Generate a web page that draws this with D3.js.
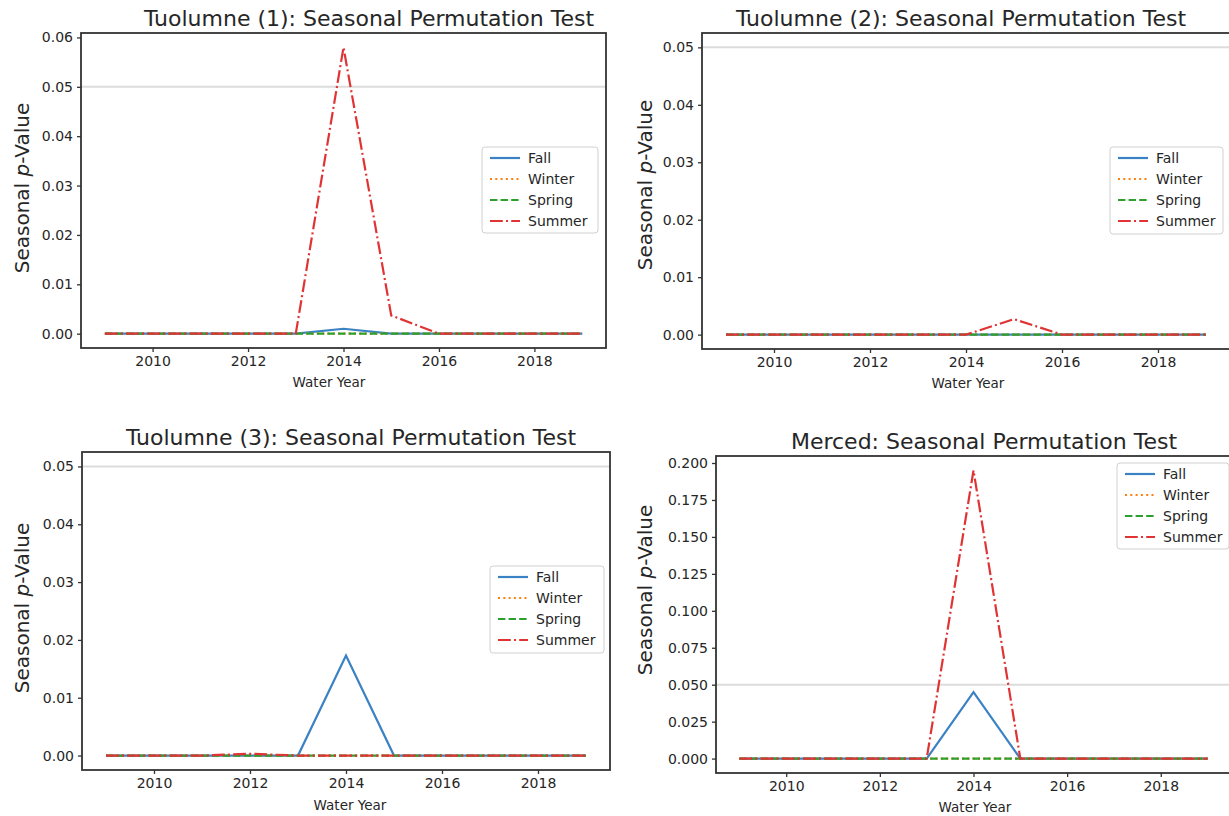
<!DOCTYPE html>
<html>
<head>
<meta charset="utf-8">
<script src="https://cdn.jsdelivr.net/npm/d3@7"></script>
<style>
  html, body { margin: 0; padding: 0; background: #fff; }
  svg { display: block; }
  text { font-family: "DejaVu Sans", sans-serif; fill: #262626; }
</style>
</head>
<body>
<svg id="chart" width="1229" height="816"></svg>
<script>
// ---------------- DATA ----------------
const years = [2009, 2010, 2011, 2012, 2013, 2014, 2015, 2016, 2017, 2018, 2019];
const seasons = ["Fall", "Winter", "Spring", "Summer"];
const xTickValues = [2010, 2012, 2014, 2016, 2018];
const threshold = 0.05;

const t1Fall   = [0, 0, 0, 0, 0, 0.001, 0, 0, 0, 0, 0];
const t1Winter = [0, 0, 0, 0, 0, 0, 0, 0, 0, 0, 0];
const t1Spring = [0, 0, 0, 0, 0, 0, 0, 0, 0, 0, 0];
const t1Summer = [0, 0, 0, 0, 0, 0.058, 0.0037, 0, 0, 0, 0];

const t2Fall   = [0, 0, 0, 0, 0, 0, 0, 0, 0, 0, 0];
const t2Winter = [0, 0, 0, 0, 0, 0, 0, 0, 0, 0, 0];
const t2Spring = [0, 0, 0, 0, 0, 0, 0, 0, 0, 0, 0];
const t2Summer = [0, 0, 0, 0, 0, 0, 0.0027, 0, 0, 0, 0];

const t3Fall   = [0, 0, 0, 0, 0, 0.0173, 0, 0, 0, 0, 0];
const t3Winter = [0, 0, 0, 0, 0, 0, 0, 0, 0, 0, 0];
const t3Spring = [0, 0, 0, 0, 0, 0, 0, 0, 0, 0, 0];
const t3Summer = [0, 0, 0, 0.0003, 0, 0, 0, 0, 0, 0, 0];

const mFall   = [0, 0, 0, 0, 0, 0.045, 0, 0, 0, 0, 0];
const mWinter = [0, 0, 0, 0, 0, 0, 0, 0, 0, 0, 0];
const mSpring = [0, 0, 0, 0, 0, 0, 0, 0, 0, 0, 0];
const mSummer = [0, 0, 0, 0, 0, 0.195, 0, 0, 0, 0, 0];

const yTicks1 = [0, 0.01, 0.02, 0.03, 0.04, 0.05, 0.06];
const yTicks2 = [0, 0.01, 0.02, 0.03, 0.04, 0.05];
const yTicks3 = [0, 0.01, 0.02, 0.03, 0.04, 0.05];
const yTicks4 = [0, 0.025, 0.05, 0.075, 0.1, 0.125, 0.15, 0.175, 0.2];

const titles = [
  "Tuolumne (1): Seasonal Permutation Test",
  "Tuolumne (2): Seasonal Permutation Test",
  "Tuolumne (3): Seasonal Permutation Test",
  "Merced: Seasonal Permutation Test"
];

// ---------------- STYLES ----------------
const seasonStyle = {
  Fall:   { color: "#3b82c4", dash: null },
  Winter: { color: "#ff7f0e", dash: "2,3.3" },
  Spring: { color: "#2ca02c", dash: "7.4,3.2" },
  Summer: { color: "#e03333", dash: "12.8,3.2,2,3.2" }
};

// panel layout (pixel boxes of the axes frames and label positions)
const panels = [
  { title: titles[0], series: [t1Fall, t1Winter, t1Spring, t1Summer], yTicks: yTicks1, fmt: ".2f",
    box: { l: 81, r: 606, t: 33, b: 348 }, titleXY: [369, 18], yLabelXY: [22, 188], xLabelXY: [329, 382],
    legend: { x: 482, y: 147, w: 116, h: 86 } },
  { title: titles[1], series: [t2Fall, t2Winter, t2Spring, t2Summer], yTicks: yTicks2, fmt: ".2f",
    box: { l: 702, r: 1230, t: 33, b: 349 }, titleXY: [961, 18], yLabelXY: [645, 185], xLabelXY: [968, 383],
    legend: { x: 1110, y: 147, w: 113, h: 87 } },
  { title: titles[2], series: [t3Fall, t3Winter, t3Spring, t3Summer], yTicks: yTicks3, fmt: ".2f",
    box: { l: 82, r: 610, t: 452, b: 770 }, titleXY: [351, 437], yLabelXY: [22, 608], xLabelXY: [350, 805],
    legend: { x: 490, y: 566, w: 114, h: 87 } },
  { title: titles[3], series: [mFall, mWinter, mSpring, mSummer], yTicks: yTicks4, fmt: ".3f",
    box: { l: 716, r: 1231, t: 456, b: 773 }, titleXY: [984, 441], yLabelXY: [645, 590], xLabelXY: [975, 807],
    legend: { x: 1117, y: 463, w: 112, h: 86 } }
];

const svg = d3.select("#chart");

panels.forEach(p => {
  const { l, r, t, b } = p.box;
  const x = d3.scaleLinear().domain([2008.5, 2019.5]).range([l, r]);
  const allVals = p.series.flat().concat([threshold]);
  const yMin = Math.min(0, d3.min(allVals));
  const yMax = d3.max(allVals);
  const pad = (yMax - yMin) * 0.05;
  const y = d3.scaleLinear().domain([yMin - pad, yMax + pad]).range([b, t]);

  const g = svg.append("g");
  const clipId = "clip" + l + "_" + t;
  g.append("clipPath").attr("id", clipId).append("rect")
    .attr("x", l).attr("y", t).attr("width", r - l).attr("height", b - t);

  // threshold line
  g.append("line")
    .attr("x1", l).attr("x2", r)
    .attr("y1", y(threshold)).attr("y2", y(threshold))
    .attr("stroke", "#dcdcdc").attr("stroke-width", 2);

  // series lines
  const line = d3.line().x((d, i) => x(years[i])).y(d => y(d));
  p.series.forEach((vals, si) => {
    const st = seasonStyle[seasons[si]];
    g.append("path")
      .datum(vals)
      .attr("clip-path", `url(#${clipId})`)
      .attr("d", line)
      .attr("fill", "none")
      .attr("stroke", st.color)
      .attr("stroke-width", 2.2)
      .attr("stroke-dasharray", st.dash);
  });

  // axes
  const xAxis = d3.axisBottom(x).tickValues(xTickValues).tickFormat(d3.format("d")).tickSize(4).tickPadding(4);
  const yAxis = d3.axisLeft(y).tickValues(p.yTicks).tickFormat(d3.format(p.fmt)).tickSize(4).tickPadding(4);

  const gx = g.append("g").attr("transform", `translate(0,${b})`).call(xAxis);
  const gy = g.append("g").attr("transform", `translate(${l},0)`).call(yAxis);
  [gx, gy].forEach(ax => {
    ax.select(".domain").remove();
    ax.selectAll(".tick line").attr("stroke", "#333").attr("stroke-width", 1.3);
    ax.selectAll(".tick text").style("font-size", "14px").attr("fill", "#262626");
  });

  // frame
  g.append("rect")
    .attr("x", l).attr("y", t).attr("width", r - l).attr("height", b - t)
    .attr("fill", "none").attr("stroke", "#333").attr("stroke-width", 1.8);

  // title
  g.append("text")
    .attr("x", p.titleXY[0]).attr("y", p.titleXY[1])
    .attr("text-anchor", "middle").attr("dominant-baseline", "central")
    .style("font-size", "22px").attr("fill", "#1a1a1a")
    .text(p.title);

  // x label
  g.append("text")
    .attr("x", p.xLabelXY[0]).attr("y", p.xLabelXY[1])
    .attr("text-anchor", "middle").attr("dominant-baseline", "central")
    .style("font-size", "13.5px")
    .text("Water Year");

  // y label
  const yl = g.append("text")
    .attr("transform", `translate(${p.yLabelXY[0]},${p.yLabelXY[1]}) rotate(-90)`)
    .attr("text-anchor", "middle").attr("dominant-baseline", "central")
    .style("font-size", "20px");
  yl.append("tspan").text("Seasonal ");
  yl.append("tspan").style("font-style", "italic").text("p");
  yl.append("tspan").text("-Value");

  // legend
  const lg = g.append("g").attr("transform", `translate(${p.legend.x},${p.legend.y})`);
  lg.append("rect")
    .attr("width", p.legend.w).attr("height", p.legend.h)
    .attr("rx", 3).attr("ry", 3)
    .attr("fill", "#fff").attr("fill-opacity", 0.85)
    .attr("stroke", "#d0d0d0").attr("stroke-width", 1);
  seasons.forEach((s, i) => {
    const yy = 11 + i * 21;
    const st = seasonStyle[s];
    lg.append("line")
      .attr("x1", 8).attr("x2", 38).attr("y1", yy).attr("y2", yy)
      .attr("stroke", st.color).attr("stroke-width", 2.2)
      .attr("stroke-dasharray", st.dash);
    lg.append("text")
      .attr("x", 46).attr("y", yy)
      .attr("dominant-baseline", "central")
      .style("font-size", "14px")
      .text(s);
  });
});
</script>
</body>
</html>
